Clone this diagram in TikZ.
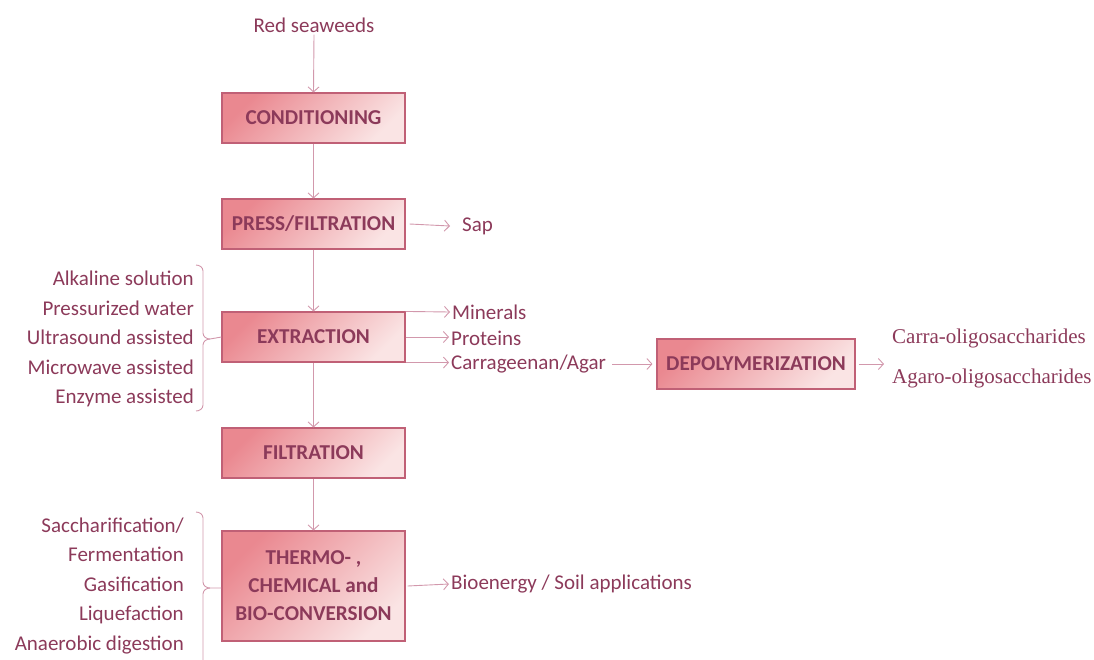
\documentclass[tikz,border=0pt]{standalone}
\usepackage{fontspec}
\usetikzlibrary{arrows.meta}
\setmainfont{Carlito}
\newfontfamily\timesf{Liberation Serif}
\definecolor{txtc}{RGB}{140,58,90}
\definecolor{linec}{RGB}{210,152,172}
\definecolor{borderc}{RGB}{192,96,118}
\definecolor{filldark}{RGB}{234,136,144}
\definecolor{filllight}{RGB}{250,228,228}
\begin{document}
\begin{tikzpicture}[x=1pt,y=-1pt,
  box/.style={draw=borderc, line width=1.1pt, top color=filldark, bottom color=filllight, shading angle=45,
    minimum width=183pt, minimum height=50pt, inner sep=2pt, align=center, text=txtc,
    font=\fontsize{21.2}{28}\selectfont\bfseries},
  lbl/.style={text=txtc, inner sep=2pt, font=\fontsize{21}{29.5}\selectfont},
  tlbl/.style={text=txtc, inner sep=2pt, font=\timesf\fontsize{21}{29.5}\selectfont},
  arr/.style={draw=linec, line width=0.9pt, -{Straight Barb[length=5pt,width=11pt]}},
  brk/.style={draw=linec, line width=0.9pt}
]
\useasboundingbox (0,0) rectangle (1094,659);
% boxes
\node[box] (cond) at (313.5,118) {CONDITIONING};
\node[box] (press) at (313.5,224) {PRESS/FILTRATION};
\node[box] (extr) at (313.5,337) {EXTRACTION};
\node[box] (filt) at (313.5,453) {FILTRATION};
\node[box, minimum height=110pt] (thermo) at (313.5,586) {THERMO- ,\\CHEMICAL and\\BIO-CONVERSION};
\node[box, minimum width=198pt] (depol) at (756,364) {DEPOLYMERIZATION};
% labels
\node[lbl] (rs) at (314,25) {Red seaweeds};
\node[lbl, anchor=west] (sap) at (460,226) {Sap};
\node[lbl, anchor=west] (min) at (450,312) {Minerals};
\node[lbl, anchor=west] (prot) at (449,338) {Proteins};
\node[lbl, anchor=west] (carr) at (449,364) {Carrageenan/Agar};
\node[lbl, anchor=west] (bio) at (449,584) {Bioenergy / Soil applications};
\node[tlbl, anchor=west] (co) at (890,338) {Carra-oligosaccharides};
\node[tlbl, anchor=west] (ao) at (890,378) {Agaro-oligosaccharides};
\coordinate (dout) at (884,364);
\node[lbl, anchor=east, align=right] (ext) at (196,339) {Alkaline solution\\Pressurized water\\Ultrasound assisted\\Microwave assisted\\Enzyme assisted};
\node[lbl, anchor=east, align=right] (conv) at (186,586) {Saccharification/\\Fermentation\\Gasification\\Liquefaction\\Anaerobic digestion};
% vertical flow
\draw[arr] (rs.south) -- (cond.north);
\draw[arr] (cond.south) -- (press.north);
\draw[arr] (press.south) -- (extr.north);
\draw[arr] (extr.south) -- (filt.north);
\draw[arr] (filt.south) -- (thermo.north);
% side arrows
\draw[arr] ([xshift=4pt]press.east) -- ([xshift=-10pt]sap.west);
\draw[arr] (extr.north east) -- (min.west);
\draw[arr] (extr.east) -- (prot.west |- extr.east);
\draw[arr] (extr.south east) -- (carr.west |- extr.south east);
\draw[arr] ([xshift=4pt]carr.east) -- ([xshift=-4pt]depol.west);
\draw[arr] ([xshift=3pt]depol.east) -- (dout);
\draw[arr] ([xshift=2pt]thermo.east) -- (bio.west);
% brackets
\draw[brk] (196,265) to[out=0,in=90] (203,271) -- (203,333) to[out=-90,in=180] (210,339) -- (extr.west);
\draw[brk] (210,339) to[out=180,in=90] (203,345) -- (203,405) to[out=-90,in=0] (196,411);
\draw[brk] (196,512) to[out=0,in=90] (203,518) -- (203,582) to[out=-90,in=180] (210,588) -- (thermo.west |- 0,588);
\draw[brk] (210,588) to[out=180,in=90] (203,594) -- (203,665);
\end{tikzpicture}
\end{document}
